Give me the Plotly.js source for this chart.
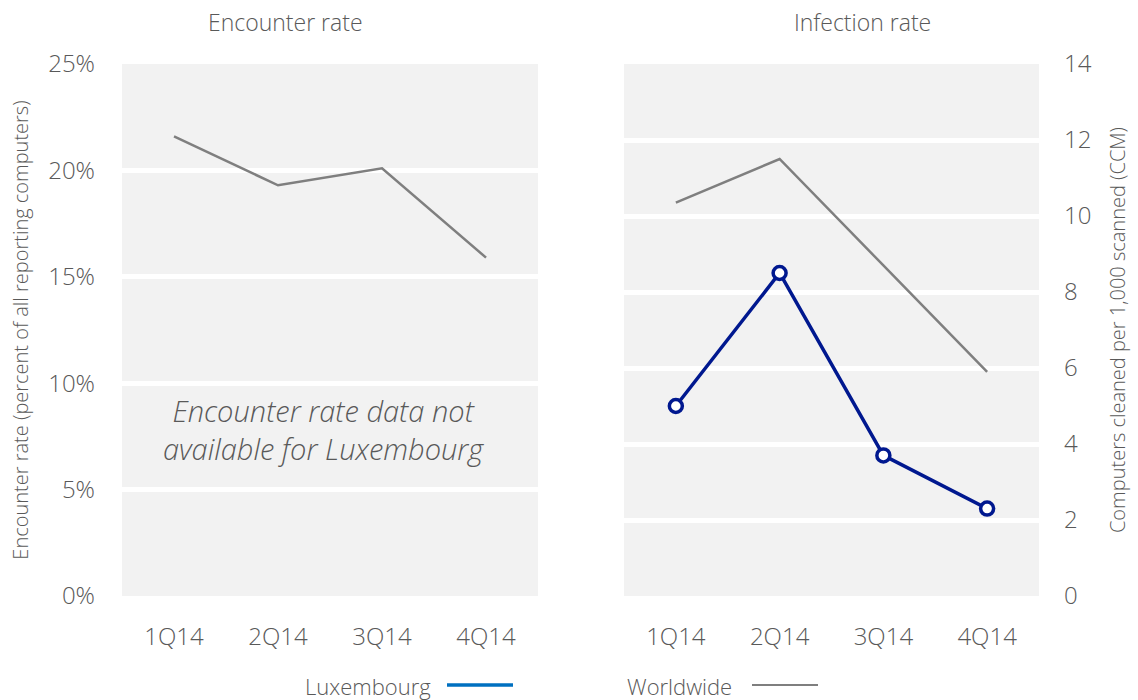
<!DOCTYPE html>
<html>
<head>
<meta charset="utf-8">
<script src="https://cdn.plot.ly/plotly-3.0.1.min.js"></script>
<style>html,body{margin:0;padding:0;background:#fff;}#chart{width:1138px;height:700px;}</style>
</head>
<body>
<div id="chart"></div>
<script>
const quarters = ['1Q14', '2Q14', '3Q14', '4Q14'];
const encounterWorldwide = [0.216, 0.193, 0.201, 0.159];
const infectionWorldwide = [10.35, 11.5, 8.7, 5.9];
const infectionLuxembourg = [5.0, 8.5, 3.7, 2.3];
const encounterTicks = [0, 0.05, 0.10, 0.15, 0.20, 0.25];
const ccmTicks = [0, 2, 4, 6, 8, 10, 12, 14];

const FONT = '"Segoe UI Light", "Segoe UI", "Open Sans", "Noto Sans", sans-serif';
const TXT = '#595959';
const W = 300;

const traces = [
  {x: quarters, y: encounterWorldwide, xaxis: 'x', yaxis: 'y', mode: 'lines',
   line: {color: '#7f7f7f', width: 2.5}, name: 'Worldwide', showlegend: false, hoverinfo: 'skip'},
  {x: quarters, y: infectionWorldwide, xaxis: 'x2', yaxis: 'y2', mode: 'lines',
   line: {color: '#7f7f7f', width: 2.5}, name: 'Worldwide', showlegend: false, hoverinfo: 'skip'},
  {x: quarters, y: infectionLuxembourg, xaxis: 'x2', yaxis: 'y2', mode: 'lines+markers',
   line: {color: '#00188f', width: 3.5},
   marker: {symbol: 'circle', size: 13, color: '#ffffff', line: {color: '#00188f', width: 3.5}},
   name: 'Luxembourg', showlegend: false, hoverinfo: 'skip'}
];

const px = v => (v - 122) / 917;
const py = v => (596 - v) / 532;

const axisX = {
  type: 'category', range: [-0.5, 3.5], showgrid: false, zeroline: false, showline: false,
  ticks: '', ticklabelstandoff: 24, tickfont: {family: FONT, size: 24, color: TXT, weight: W}
};

const layout = {
  width: 1138, height: 700,
  margin: {l: 122, r: 99, t: 64, b: 104},
  paper_bgcolor: '#ffffff', plot_bgcolor: '#f2f2f2',
  showlegend: false,
  font: {family: FONT, color: TXT, weight: W},
  xaxis: Object.assign({}, axisX, {domain: [0, 0.4537], anchor: 'y'}),
  xaxis2: Object.assign({}, axisX, {domain: [0.5474, 1], anchor: 'y2'}),
  yaxis: {
    domain: [0, 1], anchor: 'x', range: [0, 0.25], tickvals: encounterTicks, tickformat: '.0%',
    showgrid: true, gridcolor: '#ffffff', gridwidth: 5, zeroline: false, showline: false,
    ticks: '', ticklabelstandoff: 26, tickfont: {family: FONT, size: 24, color: TXT, weight: W},
    title: {text: 'Encounter rate (percent of all reporting computers)', standoff: 14,
            font: {family: FONT, size: 20, color: TXT, weight: W}}
  },
  yaxis2: {
    domain: [0, 1], anchor: 'x2', side: 'right', range: [0, 14], tickvals: ccmTicks,
    showgrid: true, gridcolor: '#ffffff', gridwidth: 5, zeroline: false, showline: false,
    ticks: '', ticklabelstandoff: 24, tickfont: {family: FONT, size: 24, color: TXT, weight: W},
    title: {text: 'Computers cleaned per 1,000 scanned (CCM)', standoff: 20,
            font: {family: FONT, size: 20, color: TXT, weight: W}}
  },
  annotations: [
    {xref: 'paper', yref: 'paper', x: px(285), y: py(22), text: 'Encounter rate', showarrow: false,
     xanchor: 'center', yanchor: 'middle', font: {family: FONT, size: 23, color: TXT, weight: W}},
    {xref: 'paper', yref: 'paper', x: px(862), y: py(22), text: 'Infection rate', showarrow: false,
     xanchor: 'center', yanchor: 'middle', font: {family: FONT, size: 23, color: TXT, weight: W}},
    {xref: 'paper', yref: 'paper', x: px(323), y: py(429),
     text: '<i>Encounter rate data not<br>available for Luxembourg</i>', showarrow: false,
     xanchor: 'center', yanchor: 'middle', align: 'center',
     font: {family: FONT, size: 29, color: '#595959', weight: W}},
    {xref: 'paper', yref: 'paper', x: px(433), y: py(686), text: 'Luxembourg', showarrow: false,
     xanchor: 'right', yanchor: 'middle', font: {family: FONT, size: 22, color: TXT, weight: W}},
    {xref: 'paper', yref: 'paper', x: px(734), y: py(686), text: 'Worldwide', showarrow: false,
     xanchor: 'right', yanchor: 'middle', font: {family: FONT, size: 22, color: TXT, weight: W}}
  ],
  shapes: [
    {type: 'line', xref: 'paper', yref: 'paper', x0: px(447), x1: px(513), y0: py(685), y1: py(685),
     line: {color: '#0070c0', width: 3.5}},
    {type: 'line', xref: 'paper', yref: 'paper', x0: px(752), x1: px(818), y0: py(685), y1: py(685),
     line: {color: '#7f7f7f', width: 2}}
  ]
};

Plotly.newPlot('chart', traces, layout, {displayModeBar: false, staticPlot: true});
</script>
</body>
</html>
